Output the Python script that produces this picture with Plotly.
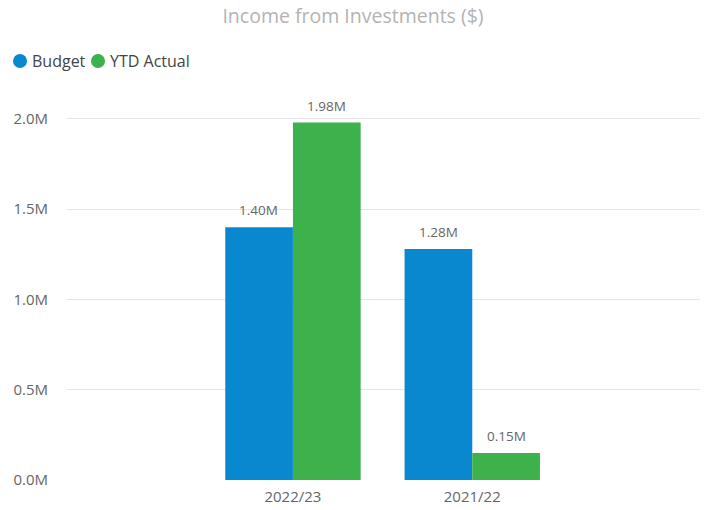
import plotly.graph_objects as go

categories = ["2022/23", "2021/22"]
budget = [1.40e6, 1.28e6]
ytd_actual = [1.98e6, 0.15e6]
budget_labels = ["1.40M", "1.28M"]
actual_labels = ["1.98M", "0.15M"]
series_names = ["Budget", "YTD Actual"]
y_tick_vals = [0, 0.5e6, 1.0e6, 1.5e6, 2.0e6]
y_tick_text = ["0.0M", "0.5M", "1.0M", "1.5M", "2.0M"]

BLUE = "#0A88CF"
GREEN = "#3DB14B"
FONT = "Open Sans, Noto Sans, sans-serif"
LABEL_COLOR = "#666666"

fig = go.Figure()
fig.add_trace(go.Bar(x=categories, y=budget, name=series_names[0],
                     marker=dict(color=BLUE, line=dict(width=0)), showlegend=False))
fig.add_trace(go.Bar(x=categories, y=ytd_actual, name=series_names[1],
                     marker=dict(color=GREEN, line=dict(width=0)), showlegend=False))

# data labels above each bar
for series, labels, shift in ((budget, budget_labels, -34), (ytd_actual, actual_labels, 34)):
    for cat, val, lab in zip(categories, series, labels):
        fig.add_annotation(x=cat, y=val, xref="x", yref="y", text=lab, showarrow=False,
                           xshift=shift, yshift=17, yanchor="middle",
                           font=dict(size=13.5, color=LABEL_COLOR, family=FONT))

# legend: round markers + names (top-left)
legend_y = 1.1026
for name, color, mx, tx in ((series_names[0], BLUE, -0.0742, -0.0585),
                            (series_names[1], GREEN, 0.049, 0.0648)):
    fig.add_shape(type="circle", xref="paper", yref="paper", xsizemode="pixel", ysizemode="pixel",
                  xanchor=mx, yanchor=legend_y, x0=-7, x1=7, y0=-7, y1=7,
                  fillcolor=color, line=dict(width=0))
    fig.add_annotation(xref="paper", yref="paper", x=tx, y=legend_y, xanchor="left", yanchor="middle",
                       text=name, showarrow=False, font=dict(size=16, color="#444444", family=FONT))

fig.update_layout(
    width=706, height=510,
    paper_bgcolor="white", plot_bgcolor="white",
    font=dict(family=FONT, color=LABEL_COLOR),
    title=dict(text="Income from Investments ($)", x=0.5, xanchor="center", y=0.9676, yanchor="middle",
               font=dict(size=19.5, color="#B3B3B3")),
    margin=dict(l=67, r=6, t=100, b=30),
    barmode="group", bargap=0.245, bargroupgap=0,
    showlegend=False,
    xaxis=dict(type="category", range=[-1.26, 2.27], showgrid=False, showline=False, automargin=False,
               ticks="", tickfont=dict(size=15, color=LABEL_COLOR), ticklabelstandoff=6),
    yaxis=dict(range=[0, 2.105e6], tickvals=y_tick_vals, ticktext=y_tick_text, automargin=False,
               showgrid=True, gridcolor="#E6E6E6", gridwidth=1, zeroline=False,
               showline=False, ticks="", tickfont=dict(size=15, color=LABEL_COLOR),
               ticklabelstandoff=18),
)

fig.write_html("out.html", config={"displayModeBar": False},
               post_script="document.body.style.margin='0';")
